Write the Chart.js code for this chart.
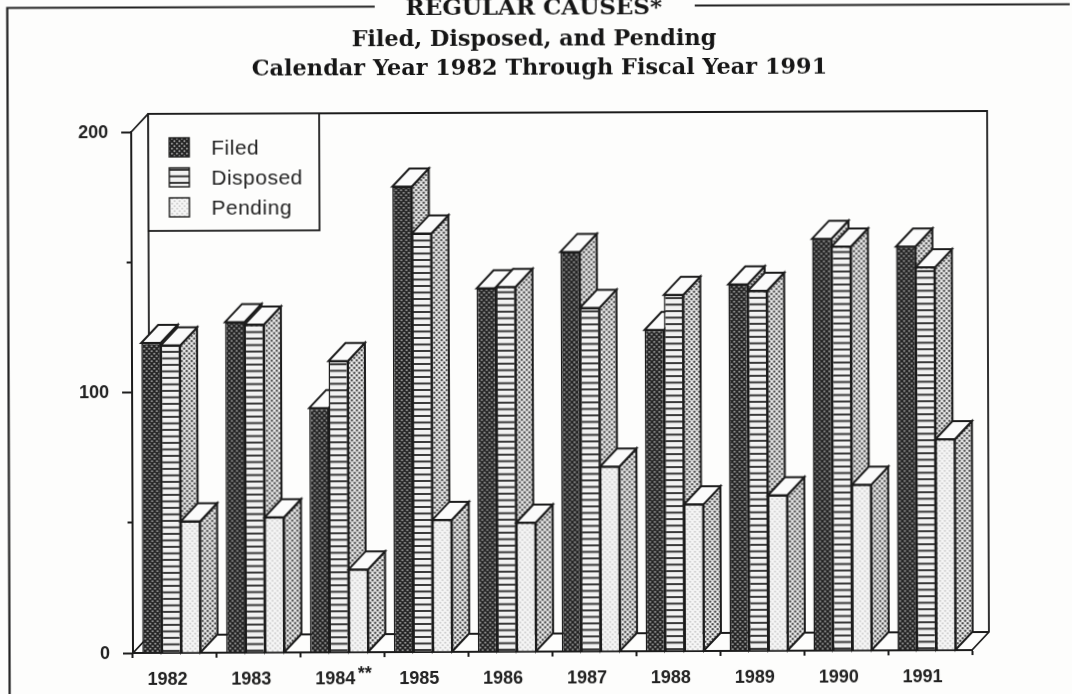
<!DOCTYPE html>
<html>
<head>
<meta charset="utf-8">
<style>
  html, body { margin: 0; padding: 0; background: #fdfdfc; }
  #wrap { position: relative; width: 1072px; height: 694px; overflow: hidden; }
  /* the original is a slightly crooked, soft scan */
  canvas { filter: blur(0.55px); transform: rotate(-0.2deg); transform-origin: 133px 653px; }
</style>
<script src="https://cdn.jsdelivr.net/npm/chart.js@4/dist/chart.umd.min.js"></script>
</head>
<body>
<div id="wrap"><canvas id="chart" width="1072" height="694"></canvas></div>
<script>
// values
const years = ['1982', '1983', '1984', '1985', '1986', '1987', '1988', '1989', '1990', '1991'];
const filed = [119, 126.9, 93.8, 178.7, 139.5, 153.4, 123.3, 140.7, 158.1, 155];
const disposed = [118, 125.9, 111.8, 160.7, 140, 131.9, 136.8, 138.2, 155.1, 147];
const pending = [50.5, 51.9, 31.8, 50.7, 49.5, 70.9, 56.3, 59.7, 63.6, 81];
const seriesNames = ['Filed', 'Disposed', 'Pending'];
const titleLines = ['REGULAR CAUSES*', 'Filed, Disposed, and Pending', 'Calendar Year 1982 Through Fiscal Year 1991'];
const yearMark = { '1984': '**' };

const INK = '#1c1c1c';
const DEPTH_X = 17, DEPTH_Y = 18;
const BAR_SHIFT = -3.5;   // bars sit a little left of the slot centre on the original

// little tiles for the printed screens
function makeTile(w, h, paint) {
    const c = document.createElement('canvas');
    c.width = w;
    c.height = h;
    paint(c.getContext('2d'));
    return document.createElement('canvas').getContext('2d').createPattern(c, 'repeat');
}
function dotTile(bg, fg, r) {
    return makeTile(5, 5, g => {
        g.fillStyle = bg;
        g.fillRect(0, 0, 5, 5);
        g.fillStyle = fg;
        g.beginPath();
        g.arc(1.25, 1.25, r, 0, 7);
        g.arc(3.75, 3.75, r, 0, 7);
        g.fill();
    });
}
const stripes = makeTile(6, 13, g => {
    g.fillStyle = '#f2f2f2';
    g.fillRect(0, 0, 6, 13);
    g.fillStyle = '#3a3a3a';
    g.fillRect(0, 0, 6, 2);
    g.fillRect(0, 6.5, 6, 2);
});
const darkDots = dotTile('#222', '#b0b0b0', 0.95);
const lightDots = dotTile('#f6f6f6', '#c4c4c4', 0.9);
const sideDots = dotTile('#eeeeee', '#333333', 1.15);

const faces = [darkDots, stripes, lightDots];

function face(ctx, pts, fill) {
    ctx.beginPath();
    pts.forEach((p, i) => i ? ctx.lineTo(p[0], p[1]) : ctx.moveTo(p[0], p[1]));
    ctx.closePath();
    ctx.fillStyle = fill;
    ctx.fill();
    ctx.strokeStyle = INK;
    ctx.lineWidth = 2;
    ctx.stroke();
}

const scanPlugin = {
    id: 'scan',
    beforeDraw(chart) {
        const { ctx, chartArea: a } = chart;
        ctx.save();
        // page frame, broken by the heading
        ctx.strokeStyle = '#222';
        ctx.lineWidth = 2.2;
        ctx.beginPath();
        ctx.moveTo(9.5, 700);
        ctx.lineTo(9.5, 7.5);
        ctx.lineTo(377, 7.5);
        ctx.moveTo(697, 7.5);
        ctx.lineTo(1080, 7.5);
        ctx.stroke();
        // title
        ctx.fillStyle = '#161616';
        ctx.textAlign = 'center';
        ctx.textBaseline = 'alphabetic';
        ctx.font = 'bold 23px "DejaVu Serif"';
        ctx.fillText(titleLines[0], 536, 16);
        ctx.font = 'bold 22.4px "DejaVu Serif"';
        ctx.fillText(titleLines[1], 536, 46.5);
        ctx.fillText(titleLines[2], 541.5, 75.5);
        // back wall and floor
        ctx.strokeStyle = INK;
        ctx.lineWidth = 1.8;
        ctx.beginPath();
        ctx.moveTo(a.left, a.top);
        ctx.lineTo(a.left + DEPTH_X, a.top - DEPTH_Y);
        ctx.lineTo(a.right + DEPTH_X, a.top - DEPTH_Y);
        ctx.lineTo(a.right + DEPTH_X, a.bottom - DEPTH_Y);
        ctx.lineTo(a.right, a.bottom);
        ctx.moveTo(a.left, a.bottom);
        ctx.lineTo(a.left + DEPTH_X, a.bottom - DEPTH_Y);
        ctx.lineTo(a.right + DEPTH_X, a.bottom - DEPTH_Y);
        ctx.moveTo(a.left + DEPTH_X, a.top - DEPTH_Y);
        ctx.lineTo(a.left + DEPTH_X, a.bottom - DEPTH_Y);
        ctx.stroke();
        ctx.restore();
    },
    // dataset 0 has to be painted first here, so the faces overlap left to right
    beforeDatasetsDraw(chart) {
        const ctx = chart.ctx;
        ctx.save();
        ctx.translate(BAR_SHIFT, 0);
        chart.data.datasets.forEach((ds, d) => {
            chart.getDatasetMeta(d).data.forEach(bar => {
                const { x, y, base, width } = bar.getProps(['x', 'y', 'base', 'width'], true);
                const l = x - width / 2, r = x + width / 2;
                face(ctx, [[r, y], [r + DEPTH_X, y - DEPTH_Y], [r + DEPTH_X, base - DEPTH_Y], [r, base]], sideDots);
                face(ctx, [[l, y], [l + DEPTH_X, y - DEPTH_Y], [r + DEPTH_X, y - DEPTH_Y], [r, y]], '#fbfbfb');
                bar.draw(ctx);
            });
        });
        ctx.restore();
        return false;
    },
    afterDraw(chart) {
        const { ctx, chartArea: a, scales } = chart;
        ctx.save();
        // legend box
        ctx.fillStyle = '#fdfdfc';
        ctx.strokeStyle = INK;
        ctx.lineWidth = 1.8;
        ctx.fillRect(a.left + DEPTH_X, a.top - DEPTH_Y, 171, 117);
        ctx.strokeRect(a.left + DEPTH_X, a.top - DEPTH_Y, 171, 117);
        ctx.font = '21px "Liberation Sans"';
        ctx.letterSpacing = '0.5px';
        ctx.textBaseline = 'middle';
        ctx.textAlign = 'left';
        seriesNames.forEach((name, i) => {
            const top = a.top + 6 + i * 30;
            ctx.fillStyle = faces[i];
            ctx.lineWidth = 1.4;
            ctx.fillRect(a.left + 38, top, 20, 19);
            ctx.strokeRect(a.left + 38, top, 20, 19);
            ctx.fillStyle = '#222';
            ctx.fillText(name, a.left + 80, top + 11.5);
        });
        ctx.letterSpacing = '0px';
        // footnote mark after 1984
        const xs = scales.x;
        ctx.font = 'bold 18px "Liberation Sans"';
        years.forEach((yr, i) => {
            if (yearMark[yr]) ctx.fillText(yearMark[yr], xs.getPixelForValue(i) + 15, 675);
        });
        ctx.restore();
    }
};

new Chart(document.getElementById('chart'), {
    type: 'bar',
    data: {
        labels: years,
        datasets: [
            { label: seriesNames[0], data: filed, backgroundColor: faces[0], borderColor: INK, borderWidth: 1.5 },
            { label: seriesNames[1], data: disposed, backgroundColor: faces[1], borderColor: INK, borderWidth: 1.5 },
            { label: seriesNames[2], data: pending, backgroundColor: faces[2], borderColor: INK, borderWidth: 1.5 }
        ]
    },
    options: {
        responsive: false,
        animation: false,
        layout: { padding: { top: 132, right: 100, left: 0, bottom: 0 } },
        plugins: { legend: { display: false }, title: { display: false }, tooltip: { enabled: false } },
        datasets: { bar: { categoryPercentage: 0.695, barPercentage: 1 } },
        scales: {
            x: {
                afterFit: s => { s.height = 41; },
                border: { color: INK, width: 2 },
                grid: { offset: true, drawOnChartArea: false, tickColor: INK, tickLength: 5, tickWidth: 2 },
                ticks: { color: '#222', font: { family: 'Liberation Sans', size: 18, weight: 'bold' }, labelOffset: -7.5, padding: 11, maxRotation: 0 }
            },
            y: {
                min: 0,
                max: 200,
                afterFit: s => { s.width = 133; },
                border: { color: INK, width: 2 },
                grid: {
                    drawOnChartArea: false,
                    tickColor: INK,
                    tickLength: 10,
                    tickWidth: 2,
                    // unlabelled ticks at 50 and 150 are half as long: blank the outer half
                    tickBorderDash: c => (c.tick.value % 100 ? [0, 5, 5, 0] : [])
                },
                ticks: {
                    stepSize: 50,
                    color: '#222',
                    font: { family: 'Liberation Sans', size: 18, weight: 'bold' },
                    padding: 13,
                    labelOffset: 1,
                    callback: v => (v % 100 ? '' : v)
                }
            }
        }
    },
    plugins: [scanPlugin]
});
</script>
</body>
</html>
